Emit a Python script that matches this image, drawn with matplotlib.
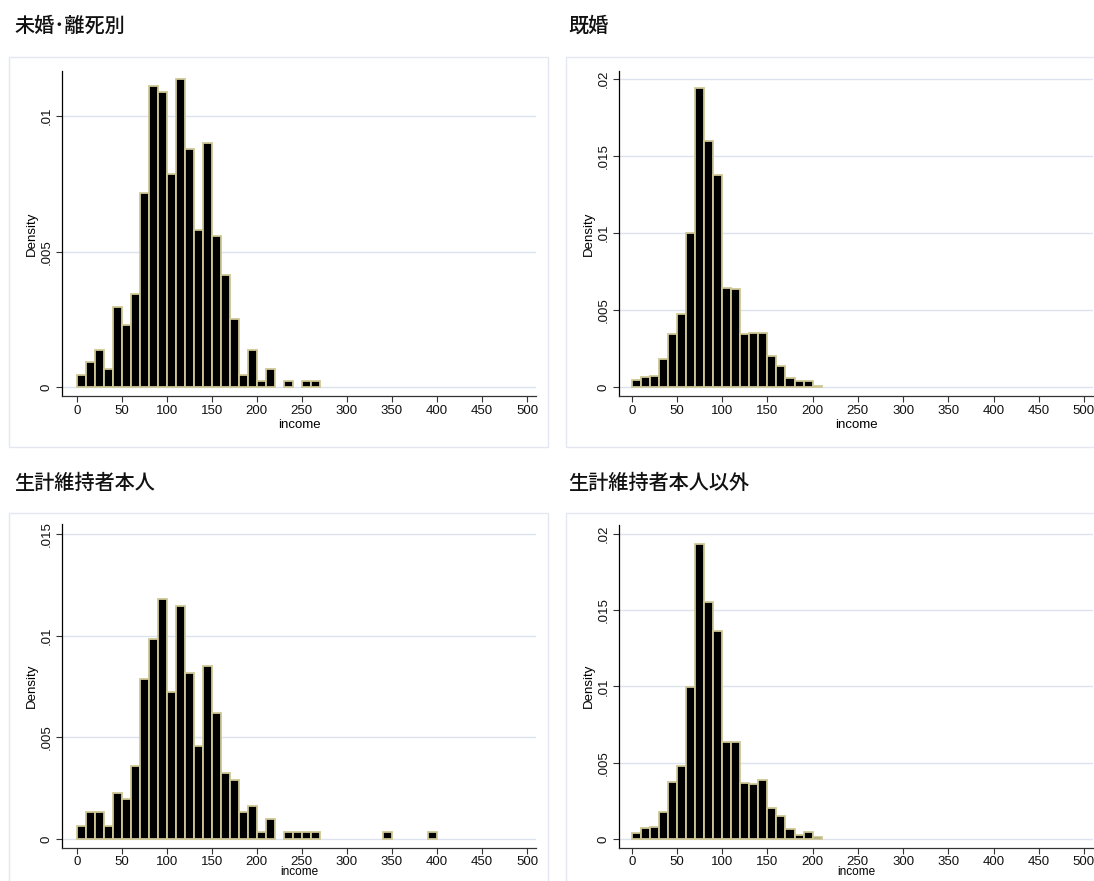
import matplotlib
matplotlib.use("Agg")
import matplotlib.pyplot as plt
from matplotlib.patches import Rectangle
from matplotlib.ticker import FuncFormatter

# ─────────────────────────────────────────────
# Histogram data: density per 10-unit income bin, bins start at 0
# ─────────────────────────────────────────────
bin_width = 10

unmarried = [0.00046, 0.00091, 0.00137, 0.00068, 0.00297, 0.00228, 0.00342,
             0.00718, 0.01113, 0.01090, 0.00787, 0.01136, 0.00878, 0.00580,
             0.00902, 0.00557, 0.00414, 0.00253, 0.00046, 0.00137, 0.00023,
             0.00068, 0.0, 0.00023, 0.0, 0.00023, 0.00023]

married = [0.00043, 0.00065, 0.00074, 0.00182, 0.00343, 0.00471, 0.01000,
           0.01946, 0.01597, 0.01375, 0.00646, 0.00638, 0.00343, 0.00349,
           0.00349, 0.00200, 0.00134, 0.00056, 0.00041, 0.00037, 0.00007]

head = [0.00062, 0.00130, 0.00130, 0.00062, 0.00228, 0.00194, 0.00360,
        0.00787, 0.00982, 0.01181, 0.00721, 0.01147, 0.00818, 0.00458,
        0.00850, 0.00620, 0.00326, 0.00292, 0.00132, 0.00161, 0.00033,
        0.00096, 0.0, 0.00033, 0.00033, 0.00033, 0.00033,
        0.0, 0.0, 0.0, 0.0, 0.0, 0.0, 0.0, 0.00033,
        0.0, 0.0, 0.0, 0.0, 0.00033]

non_head = [0.00037, 0.00070, 0.00078, 0.00174, 0.00371, 0.00480, 0.00997,
            0.01935, 0.01553, 0.01364, 0.00634, 0.00634, 0.00365, 0.00363,
            0.00387, 0.00200, 0.00150, 0.00063, 0.00024, 0.00043, 0.00010]

titles = ["未婚･離死別", "既婚", "生計維持者本人", "生計維持者本人以外"]
series = [unmarried, married, head, non_head]
y_ticks = [[0, 0.005, 0.01],
           [0, 0.005, 0.01, 0.015, 0.02],
           [0, 0.005, 0.01, 0.015],
           [0, 0.005, 0.01, 0.015, 0.02]]
x_ticks = list(range(0, 501, 50))

# ─────────────────────────────────────────────
# Layout (pixels on a 1094 x 881 canvas)
# ─────────────────────────────────────────────
W, H = 1094, 881
# plot regions: left, top, right, bottom
regions = [(62.3, 71, 536, 395.7),
           (619.3, 71, 1093, 395.7),
           (62.3, 524.3, 536, 847.5),
           (619.3, 525, 1093, 847.5)]
ylims = [(-0.00032, 0.01167),
         (-0.00057, 0.02054),
         (-0.000425, 0.01549),
         (-0.00057, 0.0206)]
xlims = [(-16, 510), (-13.7, 510), (-16, 510), (-13.7, 510)]
# outer panel boxes: left, top, right, bottom
boxes = [(9.3, 56.7, 548.3, 447.3),
         (566, 56.7, 1110, 447.3),
         (9.3, 512.7, 548.3, 900),
         (566, 512.7, 1110, 900)]
title_pos = [(14, 26), (568, 26), (14, 483), (568, 483)]
# bottom row sits close to the canvas edge, so its x-axis text is packed tighter
tick_pad = [3, 3, 2, 2]
xlabel_pad = [1, 1, -1.5, -1.5]
xlabel_size = [9.5, 9.5, 8.5, 8.5]

GRID = "#DDE3EE"
BOX = "#E4E6F2"
BAR_EDGE = "#CFC795"

plt.rcParams["font.family"] = ["Liberation Sans", "DejaVu Sans"]


def strip_zero(v, _pos):
    s = f"{v:g}"
    return "0" if v == 0 else s.lstrip("0")


fig = plt.figure(figsize=(W / 100, H / 100), dpi=100)
fig.patch.set_facecolor("white")

for (l, t, r, b) in boxes:
    fig.patches.append(Rectangle((l / W, 1 - b / H), (r - l) / W, (b - t) / H,
                                 transform=fig.transFigure, fill=False,
                                 edgecolor=BOX, linewidth=1.0))

for i, dens in enumerate(series):
    l, t, r, b = regions[i]
    ax = fig.add_axes([l / W, 1 - b / H, (r - l) / W, (b - t) / H])

    lefts = [k * bin_width for k, d in enumerate(dens) if d > 0]
    heights = [d for d in dens if d > 0]
    ax.bar(lefts, heights, width=bin_width, align="edge", color="black",
           edgecolor=BAR_EDGE, linewidth=1.3, zorder=3)

    ax.set_xlim(*xlims[i])
    ax.set_ylim(*ylims[i])
    ax.set_xticks(x_ticks)
    ax.set_yticks(y_ticks[i])
    ax.yaxis.set_major_formatter(FuncFormatter(strip_zero))
    for y in y_ticks[i]:
        ax.axhline(y, color=GRID, linewidth=1.0, zorder=1)

    for side in ("top", "right"):
        ax.spines[side].set_visible(False)
    ax.spines["left"].set_color("black")
    ax.spines["bottom"].set_color("#333333")
    ax.spines["left"].set_linewidth(0.9)
    ax.spines["bottom"].set_linewidth(0.9)

    ax.tick_params(axis="both", length=4, width=0.8, color="#333333",
                   labelsize=9.5, labelcolor="#111111", pad=3)
    ax.tick_params(axis="x", pad=tick_pad[i])
    ax.tick_params(axis="y", labelrotation=90)
    for lab in ax.get_yticklabels():
        lab.set_va("center")

    ax.set_ylabel("Density", fontsize=9.5, labelpad=2)
    ax.set_xlabel("income", fontsize=xlabel_size[i], labelpad=xlabel_pad[i])

    tx, ty = title_pos[i]
    fig.text(tx / W, 1 - ty / H, titles[i], fontsize=14.5, va="center",
             ha="left", color="#111111", fontweight="medium",
             family=["Noto Sans CJK JP", "DejaVu Sans"])

fig.savefig("out.png", dpi=100, facecolor="white")
